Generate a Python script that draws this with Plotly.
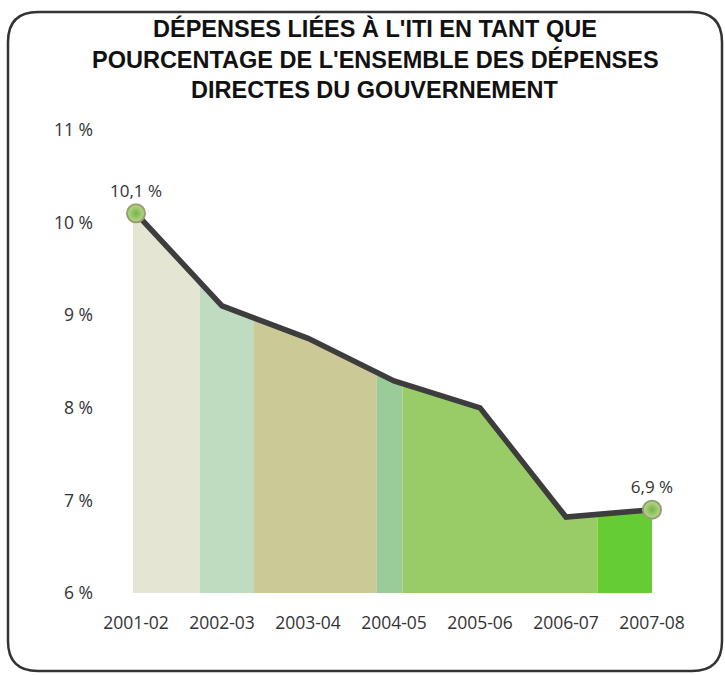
import numpy as np
import plotly.graph_objects as go

# ---- data ----
categories = ["2001-02", "2002-03", "2003-04", "2004-05", "2005-06", "2006-07", "2007-08"]
values = [10.1, 9.1, 8.75, 8.29, 8.0, 6.82, 6.9]
y_ticks = [6, 7, 8, 9, 10, 11]
y_ticktext = ["6 %", "7 %", "8 %", "9 %", "10 %", "11 %"]
point_labels = ["10,1 %", "6,9 %"]
title_lines = ["DÉPENSES LIÉES À L'ITI EN TANT QUE",
               "POURCENTAGE DE L'ENSEMBLE DES DÉPENSES",
               "DIRECTES DU GOUVERNEMENT"]

# ---- style ----
band_edges = [-0.035, 0.744, 1.372, 2.80, 3.10, 5.37, 6.0]
band_colors = ["#e5e5d4", "#bfdcc0", "#cbca97", "#99cc99", "#99cc66", "#66cc33"]

W, H = 725, 675
ML, MR, MT, MB = 100, 25, 130, 82
PW, PH = W - ML - MR, H - MT - MB

def px_to_paper(px, py):
    return (px - ML) / PW, (H - MB - py) / PH

x = np.arange(len(categories))
xs_start = -36 / 86
x_range = [xs_start, xs_start + PW / 86]

fig = go.Figure()

# coloured bands under the line
for (a, b), col in zip(zip(band_edges[:-1], band_edges[1:]), band_colors):
    inner = [xi for xi in x if a < xi < b]
    top_x = [a] + inner + [b]
    top_y = list(np.interp(top_x, x, values))
    px_ = top_x + [b, a, a]
    py_ = top_y + [y_ticks[0], y_ticks[0], top_y[0]]
    fig.add_trace(go.Scatter(x=px_, y=py_, mode="lines", fill="toself",
                             fillcolor=col, line=dict(width=0), hoverinfo="skip",
                             showlegend=False))

# main line
fig.add_trace(go.Scatter(x=x, y=values, mode="lines",
                         line=dict(color="#3d3d3d", width=5.5), showlegend=False))

# end markers with labels
fig.add_trace(go.Scatter(
    x=[x[0], x[-1]], y=[values[0], values[-1]], mode="markers+text",
    text=point_labels, textposition="top center", cliponaxis=False,
    textfont=dict(family="Open Sans", size=17, color="#333333"),
    marker=dict(size=18, color="#b7dc8c",
                gradient=dict(type="radial", color="#78b048"),
                line=dict(color="#9c9c74", width=2)),
    showlegend=False))

fig.update_xaxes(range=x_range, tickvals=list(x), ticktext=categories,
                 showgrid=False, zeroline=False, showline=False,
                 ticks="outside", ticklen=14, tickcolor="rgba(0,0,0,0)",
                 tickfont=dict(family="Open Sans", size=17.5, color="#333333"))
fig.update_yaxes(range=[y_ticks[0], y_ticks[-1]], tickvals=y_ticks, ticktext=y_ticktext,
                 showgrid=False, zeroline=False, showline=False, ticks="",
                 ticklabelstandoff=6,
                 tickfont=dict(family="Open Sans", size=17.5, color="#333333"))

# title
for i, line in enumerate(title_lines):
    tx, ty = px_to_paper(375, 28 + 31 * i)
    fig.add_annotation(x=tx, y=ty, xref="paper", yref="paper", text="<b>" + line + "</b>",
                       showarrow=False, xanchor="center", yanchor="middle",
                       font=dict(family="Liberation Sans", size=23.5, color="#111111"))

# rounded border
L, T, R, B, r = 8, 12, 722, 671, 30
def P(px, py):
    a, b = px_to_paper(px, py)
    return f"{a:.5f},{b:.5f}"
path = (f"M {P(L + r, T)} L {P(R - r, T)} Q {P(R, T)} {P(R, T + r)} "
        f"L {P(R, B - r)} Q {P(R, B)} {P(R - r, B)} L {P(L + r, B)} "
        f"Q {P(L, B)} {P(L, B - r)} L {P(L, T + r)} Q {P(L, T)} {P(L + r, T)} Z")
fig.add_shape(type="path", path=path, xref="paper", yref="paper",
              line=dict(color="#333333", width=2.5))

fig.update_layout(width=W, height=H, margin=dict(l=ML, r=MR, t=MT, b=MB),
                  plot_bgcolor="white", paper_bgcolor="white")

fig.write_html("out.html")
